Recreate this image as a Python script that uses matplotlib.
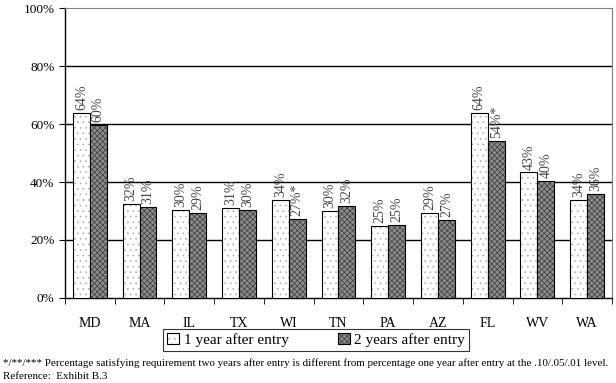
import matplotlib
matplotlib.use("Agg")
import matplotlib.pyplot as plt
import numpy as np

## DATA ##
states = ["MD", "MA", "IL", "TX", "WI", "TN", "PA", "AZ", "FL", "WV", "WA"]
one_year = [63.8, 32.4, 30.3, 31.0, 33.8, 30.1, 24.9, 29.3, 63.8, 43.3, 33.8]
two_years = [59.8, 31.4, 29.3, 30.3, 27.2, 31.7, 25.2, 26.9, 54.3, 40.5, 35.9]
one_year_labels = ["64%", "32%", "30%", "31%", "34%", "30%", "25%", "29%", "64%", "43%", "34%"]
two_years_labels = ["60%", "31%", "29%", "30%", "27%*", "32%", "25%", "27%", "54%*", "40%", "36%"]
y_ticks = [0, 20, 40, 60, 80, 100]

matplotlib.rcParams.update({
    "font.family": "serif",
    "font.serif": ["Liberation Serif", "DejaVu Serif"],
    "hatch.linewidth": 0.5,
})

fig = plt.figure(figsize=(6.16, 3.83), dpi=100)
ax = fig.add_axes([0.1055, 0.222, 0.888, 0.757])

x = np.arange(len(states))
w = 0.34

b1 = ax.bar(x - w/2, one_year, w, facecolor="white", edgecolor="black", linewidth=0.8,
            hatch="...", label="1 year after entry", zorder=3)
b2 = ax.bar(x + w/2, two_years, w, facecolor="#8c8c8c", edgecolor="black", linewidth=0.8,
            hatch="xxxxxx", label="2 years after entry", zorder=3)

# lighter dots on the first series, dark mesh on the second
for p in b1:
    p._hatch_color = matplotlib.colors.to_rgba("#b0b0b0")
for p in b2:
    p._hatch_color = matplotlib.colors.to_rgba("#3a3a3a")

for xi, v, s in zip(x - w/2, one_year, one_year_labels):
    ax.text(xi, v + 1, s, rotation=90, ha="center", va="bottom", fontsize=10, color="#444444")
for xi, v, s in zip(x + w/2, two_years, two_years_labels):
    ax.text(xi, v + 1, s, rotation=90, ha="center", va="bottom", fontsize=10, color="#444444")

## AXES ##
ax.set_xlim(-0.5, len(states) - 0.5)
ax.set_ylim(0, 100)
ax.set_yticks(y_ticks)
ax.set_yticklabels([f"{t}%" for t in y_ticks], fontsize=9.5)
ax.set_xticks(x)
ax.set_xticklabels(states, fontsize=10)
ax.set_xticks(np.arange(len(states) + 1) - 0.5, minor=True)
ax.tick_params(axis="x", which="major", length=0, pad=14)
ax.tick_params(axis="x", which="minor", length=4, direction="out")
ax.tick_params(axis="y", length=4, direction="out")

for t in [20, 40, 60, 80]:
    ax.axhline(t, color="black", linewidth=1.0, zorder=1)

ax.spines["top"].set_color("#808080")
ax.spines["right"].set_color("#808080")
ax.spines["left"].set_linewidth(1.0)
ax.spines["bottom"].set_linewidth(1.0)

leg = fig.legend(handles=[b1, b2], loc="center", bbox_to_anchor=(0.513, 0.113), ncol=2,
                 fancybox=False, edgecolor="black", fontsize=11, handlelength=0.8,
                 handleheight=0.8, handletextpad=0.3, columnspacing=3.2, borderpad=0.25,
                 borderaxespad=0)
leg.get_frame().set_linewidth(0.8)

fig.text(0.005, 0.052, "*/**/*** Percentage satisfying requirement two years after entry is different from "
         "percentage one year after entry at the .10/.05/.01 level.", fontsize=7.9, ha="left", va="center")
fig.text(0.005, 0.016, "Reference:  Exhibit B.3", fontsize=7.9, ha="left", va="center")

plt.savefig("out.png", dpi=100)
